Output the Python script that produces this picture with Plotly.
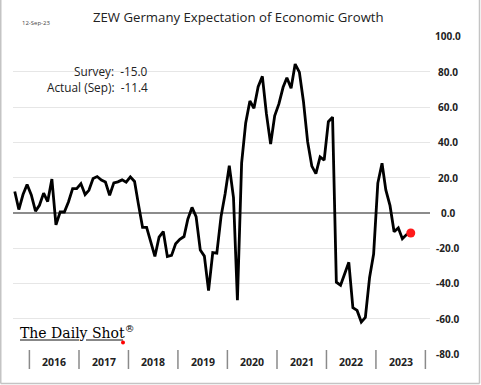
import plotly.graph_objects as go
import pandas as pd

# ZEW Germany Expectation of Economic Growth, monthly Sep-2015 .. Sep-2023
start_month = "2015-09-01"
zew_values = [
    12.1, 1.9, 10.4, 16.1,
    10.2, 1.0, 4.3, 11.2, 6.4, 19.2, -6.8, 0.5, 0.5, 6.2, 13.8, 13.8,
    16.6, 10.4, 12.8, 19.5, 20.6, 18.6, 17.5, 10.0, 17.0, 17.6, 18.7, 17.4,
    20.4, 17.8, 5.1, -8.2, -8.2, -16.1, -24.7, -13.7, -10.6, -24.7, -24.1, -17.5,
    -15.0, -13.4, -3.6, 3.1, -2.1, -21.1, -24.5, -44.1, -22.5, -22.8, -2.1, 10.7,
    26.7, 8.7, -49.5, 28.2, 51.0, 63.4, 59.3, 71.5, 77.4, 56.1, 39.0, 55.0,
    61.8, 71.2, 76.6, 70.7, 84.4, 79.8, 63.3, 40.4, 26.5, 22.3, 31.7, 29.9,
    51.7, 54.3, -39.3, -41.0, -34.3, -28.0, -53.8, -55.3, -61.9, -59.2, -36.7, -23.3,
    16.9, 28.1, 13.0, 4.1, -10.7, -8.5, -14.7, -12.3, -11.4,
]
year_labels = [2016, 2017, 2018, 2019, 2020, 2021, 2022, 2023]
y_ticks = [100, 80, 60, 40, 20, 0, -20, -40, -60, -80]
survey_value = -15.0
actual_value = -11.4

dates = pd.date_range(start_month, periods=len(zew_values), freq="MS") + pd.Timedelta(days=14)

W, H = 481, 385
def px(x):
    return x / W
def py(y):
    return 1 - y / H

fig = go.Figure()
fig.add_trace(go.Scatter(
    x=dates, y=zew_values, mode="lines",
    line=dict(color="black", width=2.8), hoverinfo="skip", showlegend=False,
))
fig.add_trace(go.Scatter(
    x=[dates[-1]], y=[zew_values[-1]], mode="markers",
    marker=dict(color="#ff1a1a", size=9), hoverinfo="skip", showlegend=False,
))

FONT = "Open Sans"
ann = []
for t in y_ticks:
    ann.append(dict(x=px(448), xref="paper", y=t, yref="y", text=f"<b>{t:.1f}</b>",
                    showarrow=False, xanchor="center", yanchor="middle",
                    font=dict(family=FONT, size=10, color="#222")))
shapes = []
for yr in year_labels:
    ann.append(dict(x=f"{yr}-07-02", xref="x", y=py(362), yref="paper", text=f"<b>{yr}</b>",
                    showarrow=False, xanchor="center", yanchor="middle",
                    font=dict(family=FONT, size=10.5, color="#222")))
for yr in year_labels + [year_labels[-1] + 1]:
    shapes.append(dict(type="line", xref="x", yref="paper", x0=f"{yr}-01-01", x1=f"{yr}-01-01",
                       y0=py(369), y1=py(350), line=dict(color="#8a8a8a", width=1.5)))

ann += [
    dict(x=px(238), y=py(17), xref="paper", yref="paper", showarrow=False,
         text="ZEW Germany Expectation of Economic Growth", xanchor="center", yanchor="middle",
         font=dict(family=FONT, size=13.2, color="#222")),
    dict(x=px(36), y=py(23), xref="paper", yref="paper", showarrow=False,
         text="12-Sep-23", xanchor="center", yanchor="middle",
         font=dict(family=FONT, size=6, color="#444")),
    dict(x=px(150), y=py(70.5), xref="paper", yref="paper", showarrow=False,
         text=f"Survey:\u00a0\u00a0{survey_value:.1f}", xanchor="right", yanchor="middle",
         font=dict(family=FONT, size=11.8, color="#222")),
    dict(x=px(150), y=py(86.5), xref="paper", yref="paper", showarrow=False,
         text=f"Actual (Sep):\u00a0\u00a0{actual_value:.1f}", xanchor="right", yanchor="middle",
         font=dict(family=FONT, size=11.8, color="#222")),
    dict(x=px(18), y=py(332), xref="paper", yref="paper", showarrow=False,
         text="The Daily Shot<sup>®</sup>", xanchor="left", yanchor="middle",
         font=dict(family="DejaVu Serif", size=14, color="#000")),
]

shapes += [
    dict(type="line", xref="paper", yref="paper", x0=px(20), x1=px(79), y0=py(340), y1=py(340),
         line=dict(color="#111", width=1)),
    dict(type="line", xref="paper", yref="paper", x0=px(86), x1=px(123), y0=py(340), y1=py(340),
         line=dict(color="#111", width=1)),
    dict(type="circle", xref="paper", yref="paper", x0=px(121), x1=px(125), y0=py(344.5), y1=py(340.5),
         fillcolor="#ff0000", line=dict(width=0)),
    # frame
    dict(type="line", xref="paper", yref="paper", x0=px(0.75), x1=px(0.75), y0=py(383.5), y1=1,
         line=dict(color="#c4c4c4", width=1.5)),
    dict(type="line", xref="paper", yref="paper", x0=px(479.5), x1=px(479.5), y0=py(383.5), y1=1,
         line=dict(color="#c4c4c4", width=1.5)),
    dict(type="line", xref="paper", yref="paper", x0=px(0.75), x1=px(479.5), y0=py(383.5), y1=py(383.5),
         line=dict(color="#c4c4c4", width=1.5)),
]

fig.update_layout(
    width=W, height=H, margin=dict(l=0, r=0, t=0, b=0),
    paper_bgcolor="white", plot_bgcolor="white",
    xaxis=dict(type="date", range=["2015-09-02", "2024-02-04"], domain=[px(13), px(430)],
               showgrid=False, zeroline=False, showticklabels=False, ticks="", showline=False),
    yaxis=dict(range=[-80, 100], domain=[py(354), py(36.5)], dtick=20, tick0=0,
               showgrid=True, gridcolor="#e6e6e6", gridwidth=1,
               zeroline=True, zerolinecolor="#8c8c8c", zerolinewidth=1.5,
               showticklabels=False, ticks="", showline=False),
    annotations=ann, shapes=shapes,
)
fig.write_html("out.html", config={"displayModeBar": False},
               post_script="document.body.style.margin='0px';document.body.style.overflow='hidden';")
